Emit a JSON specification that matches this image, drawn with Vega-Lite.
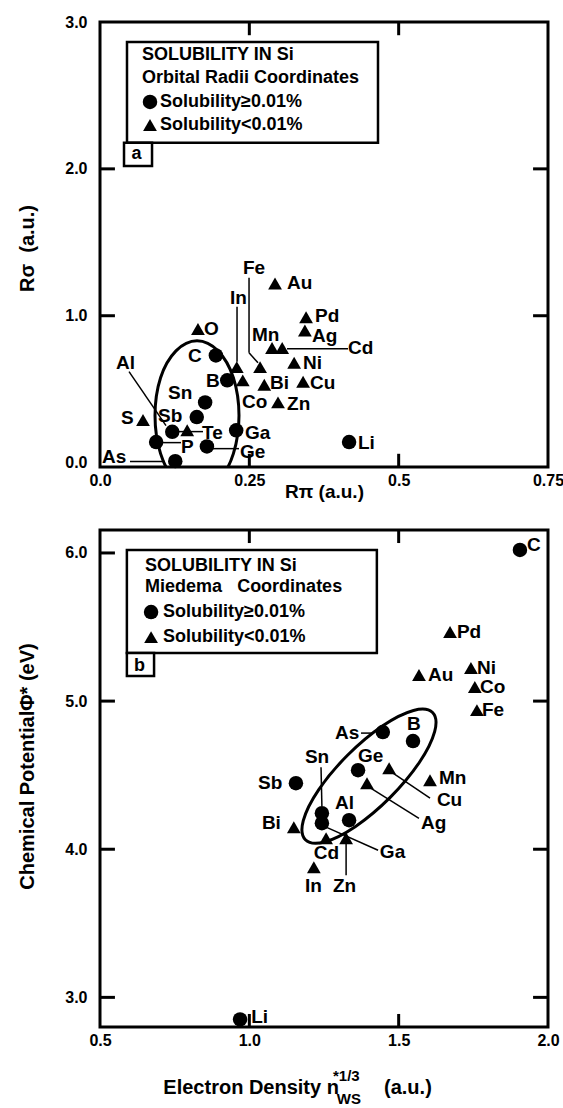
{
"$schema": "https://vega.github.io/schema/vega-lite/v6.json",
"background": "white",
"padding": {"left": 15, "top": 12, "right": 5, "bottom": 0},
"spacing": 24,
"config": {
  "font": "Liberation Sans",
  "view": {"stroke": "black", "strokeWidth": 3},
  "axis": {"grid": false, "domain": false, "ticks": false, "labelFont": "Liberation Sans", "labelFontWeight": "bold", "labelFontSize": 16, "labelColor": "black", "titleFont": "Liberation Sans", "titleFontWeight": "bold", "titleColor": "black", "titleFontSize": 20, "labelFlush": false, "labelOverlap": false},
  "text": {"font": "Liberation Sans", "fontWeight": "bold", "color": "black"}
},
"datasets": {
  "topPts": [
    {"name": "O", "s": "t", "x": 0.164, "y": 0.91, "lx": 0.1741, "ly": 0.912},
    {"name": "C", "s": "c", "x": 0.194, "y": 0.73, "lx": 0.1473, "ly": 0.728},
    {"name": "B", "s": "c", "x": 0.213, "y": 0.56, "lx": 0.1775, "ly": 0.558},
    {"name": "In", "s": "t", "x": 0.229, "y": 0.65, "lx": 0.2176, "ly": 1.122},
    {"name": "Co", "s": "t", "x": 0.239, "y": 0.56, "lx": 0.2377, "ly": 0.415},
    {"name": "Fe", "s": "t", "x": 0.268, "y": 0.65, "lx": 0.2394, "ly": 1.327},
    {"name": "Au", "s": "t", "x": 0.293, "y": 1.22, "lx": 0.3131, "ly": 1.224},
    {"name": "Mn", "s": "t", "x": 0.288, "y": 0.78, "lx": 0.2545, "ly": 0.871},
    {"name": "Cd", "s": "t", "x": 0.305, "y": 0.78, "lx": 0.4152, "ly": 0.782},
    {"name": "Pd", "s": "t", "x": 0.345, "y": 0.99, "lx": 0.36, "ly": 1.0},
    {"name": "Ag", "s": "t", "x": 0.343, "y": 0.9, "lx": 0.3549, "ly": 0.864},
    {"name": "Ni", "s": "t", "x": 0.325, "y": 0.68, "lx": 0.3399, "ly": 0.68},
    {"name": "Bi", "s": "t", "x": 0.275, "y": 0.53, "lx": 0.2846, "ly": 0.544},
    {"name": "Cu", "s": "t", "x": 0.34, "y": 0.55, "lx": 0.3516, "ly": 0.544},
    {"name": "Zn", "s": "t", "x": 0.298, "y": 0.41, "lx": 0.3131, "ly": 0.401},
    {"name": "Sn", "s": "c", "x": 0.176, "y": 0.41, "lx": 0.1138, "ly": 0.476},
    {"name": "Sb", "s": "c", "x": 0.162, "y": 0.31, "lx": 0.0971, "ly": 0.32},
    {"name": "S", "s": "t", "x": 0.072, "y": 0.29, "lx": 0.0352, "ly": 0.306},
    {"name": "Te", "s": "t", "x": 0.146, "y": 0.22, "lx": 0.1708, "ly": 0.204},
    {"name": "Al", "s": "c", "x": 0.121, "y": 0.21, "lx": 0.0268, "ly": 0.68},
    {"name": "Ga", "s": "c", "x": 0.228, "y": 0.22, "lx": 0.2428, "ly": 0.204},
    {"name": "P", "s": "c", "x": 0.094, "y": 0.14, "lx": 0.1356, "ly": 0.109},
    {"name": "Ge", "s": "c", "x": 0.179, "y": 0.11, "lx": 0.2344, "ly": 0.075},
    {"name": "As", "s": "c", "x": 0.126, "y": 0.01, "lx": 0.0033, "ly": 0.041},
    {"name": "Li", "s": "c", "x": 0.417, "y": 0.14, "lx": 0.4319, "ly": 0.136}
  ],
  "topEllipse": [
    {"i": 0, "x": 0.1624, "y": 0.83},
    {"i": 1, "x": 0.1976, "y": 0.761},
    {"i": 2, "x": 0.2233, "y": 0.578},
    {"i": 3, "x": 0.2327, "y": 0.32},
    {"i": 4, "x": 0.2233, "y": 0.061},
    {"i": 5, "x": 0.1976, "y": -0.128},
    {"i": 6, "x": 0.1624, "y": -0.197},
    {"i": 7, "x": 0.1272, "y": -0.128},
    {"i": 8, "x": 0.1014, "y": 0.061},
    {"i": 9, "x": 0.0921, "y": 0.32},
    {"i": 10, "x": 0.1014, "y": 0.578},
    {"i": 11, "x": 0.1272, "y": 0.761}
  ],
  "topLeaders": [
    {"x1": 0.2495, "y1": 1.259, "x2": 0.2495, "y2": 0.748},
    {"x1": 0.2495, "y1": 0.748, "x2": 0.2645, "y2": 0.68},
    {"x1": 0.2294, "y1": 1.061, "x2": 0.2294, "y2": 0.687},
    {"x1": 0.3131, "y1": 0.776, "x2": 0.4152, "y2": 0.776},
    {"x1": 0.0486, "y1": 0.619, "x2": 0.1105, "y2": 0.252},
    {"x1": 0.1306, "y1": 0.211, "x2": 0.1724, "y2": 0.211},
    {"x1": 0.1055, "y1": 0.136, "x2": 0.1356, "y2": 0.136},
    {"x1": 0.1892, "y1": 0.095, "x2": 0.2327, "y2": 0.095},
    {"x1": 0.0502, "y1": 0.007, "x2": 0.1088, "y2": 0.007}
  ],
  "topTicks": [
    {"x1": 0.25, "y1": -0.03, "x2": 0.25, "y2": 0.06},
    {"x1": 0.5, "y1": -0.03, "x2": 0.5, "y2": 0.06},
    {"x1": 0.25, "y1": 3.0, "x2": 0.25, "y2": 2.91},
    {"x1": 0.5, "y1": 3.0, "x2": 0.5, "y2": 2.91},
    {"x1": 0.0, "y1": 1.0, "x2": 0.025, "y2": 1.0},
    {"x1": 0.0, "y1": 2.0, "x2": 0.025, "y2": 2.0},
    {"x1": 0.75, "y1": 1.0, "x2": 0.725, "y2": 1.0},
    {"x1": 0.75, "y1": 2.0, "x2": 0.725, "y2": 2.0}
  ],
  "topBoxes": [
    {"x1": 0.0452, "x2": 0.4654, "y1": 2.864, "y2": 2.177},
    {"x1": 0.0402, "x2": 0.0871, "y1": 2.177, "y2": 2.02}
  ],
  "topLegText": [
    {"x": 0.0703, "y": 2.776, "t": "SOLUBILITY IN Si"},
    {"x": 0.0703, "y": 2.619, "t": "Orbital Radii Coordinates"},
    {"x": 0.1005, "y": 2.456, "t": "Solubility≥0.01%"},
    {"x": 0.1005, "y": 2.299, "t": "Solubility<0.01%"},
    {"x": 0.0527, "y": 2.102, "t": "a"}
  ],
  "topLegSym": [
    {"x": 0.0837, "y": 2.456, "s": "c"},
    {"x": 0.0837, "y": 2.299, "s": "t"}
  ],
  "botPts": [
    {"name": "C", "s": "c", "x": 1.906, "y": 6.02, "lx": 1.9295, "ly": 6.054},
    {"name": "Pd", "s": "t", "x": 1.672, "y": 5.466, "lx": 1.695, "ly": 5.466},
    {"name": "Au", "s": "t", "x": 1.568, "y": 5.176, "lx": 1.598, "ly": 5.176},
    {"name": "Ni", "s": "t", "x": 1.742, "y": 5.223, "lx": 1.762, "ly": 5.223},
    {"name": "Co", "s": "t", "x": 1.755, "y": 5.095, "lx": 1.772, "ly": 5.095},
    {"name": "Fe", "s": "t", "x": 1.762, "y": 4.939, "lx": 1.779, "ly": 4.939},
    {"name": "As", "s": "c", "x": 1.447, "y": 4.791, "lx": 1.287, "ly": 4.784},
    {"name": "B", "s": "c", "x": 1.548, "y": 4.73, "lx": 1.528, "ly": 4.845},
    {"name": "Ge", "s": "c", "x": 1.364, "y": 4.534, "lx": 1.364, "ly": 4.628},
    {"name": "Cu", "s": "t", "x": 1.468, "y": 4.547, "lx": 1.628, "ly": 4.331},
    {"name": "Mn", "s": "t", "x": 1.605, "y": 4.466, "lx": 1.635, "ly": 4.48},
    {"name": "Sb", "s": "c", "x": 1.156, "y": 4.446, "lx": 1.029, "ly": 4.446},
    {"name": "Ag", "s": "t", "x": 1.394, "y": 4.446, "lx": 1.575, "ly": 4.176},
    {"name": "Sn", "s": "c", "x": 1.243, "y": 4.243, "lx": 1.186, "ly": 4.622},
    {"name": "Ga", "s": "c", "x": 1.243, "y": 4.176, "lx": 1.437, "ly": 3.98},
    {"name": "Al", "s": "c", "x": 1.334, "y": 4.196, "lx": 1.287, "ly": 4.311},
    {"name": "Bi", "s": "t", "x": 1.149, "y": 4.149, "lx": 1.042, "ly": 4.176},
    {"name": "Cd", "s": "t", "x": 1.257, "y": 4.074, "lx": 1.216, "ly": 3.973},
    {"name": "Zn", "s": "t", "x": 1.324, "y": 4.074, "lx": 1.28, "ly": 3.75},
    {"name": "In", "s": "t", "x": 1.216, "y": 3.878, "lx": 1.186, "ly": 3.75},
    {"name": "Li", "s": "c", "x": 0.969, "y": 2.851, "lx": 1.006, "ly": 2.865}
  ],
  "botEllipse": [
    {"i": 0, "x": 1.6135, "y": 4.923},
    {"i": 1, "x": 1.6205, "y": 4.794},
    {"i": 2, "x": 1.5686, "y": 4.584},
    {"i": 3, "x": 1.4716, "y": 4.35},
    {"i": 4, "x": 1.3557, "y": 4.154},
    {"i": 5, "x": 1.2516, "y": 4.049},
    {"i": 6, "x": 1.1877, "y": 4.064},
    {"i": 7, "x": 1.1806, "y": 4.193},
    {"i": 8, "x": 1.2325, "y": 4.403},
    {"i": 9, "x": 1.3296, "y": 4.636},
    {"i": 10, "x": 1.4454, "y": 4.832},
    {"i": 11, "x": 1.5496, "y": 4.937}
  ],
  "botLeaders": [
    {"x1": 1.374, "y1": 4.784, "x2": 1.414, "y2": 4.784},
    {"x1": 1.24, "y1": 4.554, "x2": 1.243, "y2": 4.291},
    {"x1": 1.481, "y1": 4.514, "x2": 1.605, "y2": 4.345},
    {"x1": 1.401, "y1": 4.419, "x2": 1.568, "y2": 4.209},
    {"x1": 1.257, "y1": 4.149, "x2": 1.431, "y2": 3.993},
    {"x1": 1.324, "y1": 4.047, "x2": 1.324, "y2": 3.824}
  ],
  "botTicks": [
    {"x1": 1.0, "y1": 2.8, "x2": 1.0, "y2": 2.888},
    {"x1": 1.5, "y1": 2.8, "x2": 1.5, "y2": 2.888},
    {"x1": 1.0, "y1": 6.155, "x2": 1.0, "y2": 6.067},
    {"x1": 1.5, "y1": 6.155, "x2": 1.5, "y2": 6.067},
    {"x1": 0.5, "y1": 3.0, "x2": 0.55, "y2": 3.0},
    {"x1": 0.5, "y1": 4.0, "x2": 0.55, "y2": 4.0},
    {"x1": 0.5, "y1": 5.0, "x2": 0.55, "y2": 5.0},
    {"x1": 0.5, "y1": 6.0, "x2": 0.55, "y2": 6.0},
    {"x1": 2.0, "y1": 3.0, "x2": 1.95, "y2": 3.0},
    {"x1": 2.0, "y1": 4.0, "x2": 1.95, "y2": 4.0},
    {"x1": 2.0, "y1": 5.0, "x2": 1.95, "y2": 5.0}
  ],
  "botBoxes": [
    {"x1": 0.59, "x2": 1.427, "y1": 6.02, "y2": 5.324},
    {"x1": 0.59, "x2": 0.681, "y1": 5.324, "y2": 5.169}
  ],
  "botLegText": [
    {"x": 0.651, "y": 5.912, "t": "SOLUBILITY IN Si"},
    {"x": 0.651, "y": 5.77, "t": "Miedema\u00a0\u00a0\u00a0Coordinates"},
    {"x": 0.711, "y": 5.601, "t": "Solubility≥0.01%"},
    {"x": 0.711, "y": 5.432, "t": "Solubility<0.01%"},
    {"x": 0.614, "y": 5.236, "t": "b"}
  ],
  "botLegSym": [
    {"x": 0.671, "y": 5.601, "s": "c"},
    {"x": 0.671, "y": 5.432, "s": "t"}
  ]
},
"vconcat": [
  {
    "width": 448, "height": 445,
    "layer": [
      {
        "data": {"name": "topEllipse"},
        "mark": {"type": "line", "interpolate": "cardinal-closed", "clip": true, "color": "black", "strokeWidth": 3},
        "encoding": {
          "x": {"field": "x", "type": "quantitative", "scale": {"domain": [0, 0.75], "nice": false, "zero": false},
                "axis": {"orient": "bottom", "values": [0, 0.25, 0.5, 0.75], "labelExpr": "datum.value == 0 ? '0.0' : datum.value == 0.5 ? '0.5' : format(datum.value, '.2f')", "labelPadding": 5, "title": "Rπ (a.u.)", "titleFontSize": 19, "titleY": 24, "titleBaseline": "middle"}},
          "y": {"field": "y", "type": "quantitative", "scale": {"domain": [-0.03, 3.0], "nice": false, "zero": false},
                "axis": {"orient": "left", "values": [0, 1, 2, 3], "format": ".1f", "labelPadding": 13, "title": "Rσ\u00a0\u00a0(a.u.)", "titleX": -63, "titleY": 226}},
          "order": {"field": "i", "type": "quantitative"}
        }
      },
      {
        "data": {"name": "topTicks"},
        "mark": {"type": "rule", "color": "black", "strokeWidth": 3},
        "encoding": {
          "x": {"field": "x1", "type": "quantitative", "scale": {"domain": [0, 0.75], "nice": false, "zero": false}},
          "y": {"field": "y1", "type": "quantitative", "scale": {"domain": [-0.03, 3.0], "nice": false, "zero": false}},
          "x2": {"field": "x2"},
          "y2": {"field": "y2"}
        }
      },
      {
        "data": {"name": "topLeaders"},
        "mark": {"type": "rule", "color": "black", "strokeWidth": 1.5},
        "encoding": {
          "x": {"field": "x1", "type": "quantitative", "scale": {"domain": [0, 0.75], "nice": false, "zero": false}},
          "y": {"field": "y1", "type": "quantitative", "scale": {"domain": [-0.03, 3.0], "nice": false, "zero": false}},
          "x2": {"field": "x2"},
          "y2": {"field": "y2"}
        }
      },
      {
        "data": {"name": "topPts"},
        "mark": {"type": "point", "filled": true, "color": "black", "opacity": 1},
        "encoding": {
          "x": {"field": "x", "type": "quantitative", "scale": {"domain": [0, 0.75], "nice": false, "zero": false}},
          "y": {"field": "y", "type": "quantitative", "scale": {"domain": [-0.03, 3.0], "nice": false, "zero": false}},
          "shape": {"field": "s", "type": "nominal", "scale": {"domain": ["c", "t"], "range": ["circle", "triangle-up"]}, "legend": null},
          "size": {"field": "s", "type": "ordinal", "scale": {"domain": ["c", "t"], "range": [210, 190]}, "legend": null}
        }
      },
      {
        "data": {"name": "topPts"},
        "mark": {"type": "text", "align": "left", "baseline": "middle", "fontSize": 19, "fontWeight": "bold"},
        "encoding": {
          "x": {"field": "lx", "type": "quantitative", "scale": {"domain": [0, 0.75], "nice": false, "zero": false}},
          "y": {"field": "ly", "type": "quantitative", "scale": {"domain": [-0.03, 3.0], "nice": false, "zero": false}},
          "text": {"field": "name"}
        }
      },
      {
        "data": {"name": "topBoxes"},
        "mark": {"type": "rect", "fill": "white", "stroke": "black", "strokeWidth": 2.5},
        "encoding": {
          "x": {"field": "x1", "type": "quantitative", "scale": {"domain": [0, 0.75], "nice": false, "zero": false}},
          "x2": {"field": "x2"},
          "y": {"field": "y1", "type": "quantitative", "scale": {"domain": [-0.03, 3.0], "nice": false, "zero": false}},
          "y2": {"field": "y2"}
        }
      },
      {
        "data": {"name": "topLegText"},
        "mark": {"type": "text", "align": "left", "baseline": "middle", "fontSize": 18, "fontWeight": "bold"},
        "encoding": {
          "x": {"field": "x", "type": "quantitative", "scale": {"domain": [0, 0.75], "nice": false, "zero": false}},
          "y": {"field": "y", "type": "quantitative", "scale": {"domain": [-0.03, 3.0], "nice": false, "zero": false}},
          "text": {"field": "t"}
        }
      },
      {
        "data": {"name": "topLegSym"},
        "mark": {"type": "point", "filled": true, "color": "black", "opacity": 1},
        "encoding": {
          "x": {"field": "x", "type": "quantitative", "scale": {"domain": [0, 0.75], "nice": false, "zero": false}},
          "y": {"field": "y", "type": "quantitative", "scale": {"domain": [-0.03, 3.0], "nice": false, "zero": false}},
          "shape": {"field": "s", "type": "nominal", "scale": {"domain": ["c", "t"], "range": ["circle", "triangle-up"]}, "legend": null},
          "size": {"field": "s", "type": "ordinal", "scale": {"domain": ["c", "t"], "range": [210, 190]}, "legend": null}
        }
      }
    ]
  },
  {
    "width": 448, "height": 497,
    "layer": [
      {
        "data": {"name": "botEllipse"},
        "mark": {"type": "line", "interpolate": "cardinal-closed", "clip": true, "color": "black", "strokeWidth": 3},
        "encoding": {
          "x": {"field": "x", "type": "quantitative", "scale": {"domain": [0.5, 2.0], "nice": false, "zero": false},
                "axis": {"orient": "bottom", "values": [0.5, 1, 1.5, 2], "format": ".1f", "labelPadding": 5, "title": null}},
          "y": {"field": "y", "type": "quantitative", "scale": {"domain": [2.8, 6.155], "nice": false, "zero": false},
                "axis": {"orient": "left", "values": [3, 4, 5, 6], "format": ".1f", "labelPadding": 13, "title": "Chemical PotentialΦ* (eV)", "titleX": -63, "titleY": 236}},
          "order": {"field": "i", "type": "quantitative"}
        }
      },
      {
        "data": {"name": "botTicks"},
        "mark": {"type": "rule", "color": "black", "strokeWidth": 3},
        "encoding": {
          "x": {"field": "x1", "type": "quantitative", "scale": {"domain": [0.5, 2.0], "nice": false, "zero": false}},
          "y": {"field": "y1", "type": "quantitative", "scale": {"domain": [2.8, 6.155], "nice": false, "zero": false}},
          "x2": {"field": "x2"},
          "y2": {"field": "y2"}
        }
      },
      {
        "data": {"name": "botLeaders"},
        "mark": {"type": "rule", "color": "black", "strokeWidth": 1.5},
        "encoding": {
          "x": {"field": "x1", "type": "quantitative", "scale": {"domain": [0.5, 2.0], "nice": false, "zero": false}},
          "y": {"field": "y1", "type": "quantitative", "scale": {"domain": [2.8, 6.155], "nice": false, "zero": false}},
          "x2": {"field": "x2"},
          "y2": {"field": "y2"}
        }
      },
      {
        "data": {"name": "botPts"},
        "mark": {"type": "point", "filled": true, "color": "black", "opacity": 1},
        "encoding": {
          "x": {"field": "x", "type": "quantitative", "scale": {"domain": [0.5, 2.0], "nice": false, "zero": false}},
          "y": {"field": "y", "type": "quantitative", "scale": {"domain": [2.8, 6.155], "nice": false, "zero": false}},
          "shape": {"field": "s", "type": "nominal", "scale": {"domain": ["c", "t"], "range": ["circle", "triangle-up"]}, "legend": null},
          "size": {"field": "s", "type": "ordinal", "scale": {"domain": ["c", "t"], "range": [230, 190]}, "legend": null}
        }
      },
      {
        "data": {"name": "botPts"},
        "mark": {"type": "text", "align": "left", "baseline": "middle", "fontSize": 19, "fontWeight": "bold"},
        "encoding": {
          "x": {"field": "lx", "type": "quantitative", "scale": {"domain": [0.5, 2.0], "nice": false, "zero": false}},
          "y": {"field": "ly", "type": "quantitative", "scale": {"domain": [2.8, 6.155], "nice": false, "zero": false}},
          "text": {"field": "name"}
        }
      },
      {
        "data": {"name": "botBoxes"},
        "mark": {"type": "rect", "fill": "white", "stroke": "black", "strokeWidth": 2.5},
        "encoding": {
          "x": {"field": "x1", "type": "quantitative", "scale": {"domain": [0.5, 2.0], "nice": false, "zero": false}},
          "x2": {"field": "x2"},
          "y": {"field": "y1", "type": "quantitative", "scale": {"domain": [2.8, 6.155], "nice": false, "zero": false}},
          "y2": {"field": "y2"}
        }
      },
      {
        "data": {"name": "botLegText"},
        "mark": {"type": "text", "align": "left", "baseline": "middle", "fontSize": 18, "fontWeight": "bold"},
        "encoding": {
          "x": {"field": "x", "type": "quantitative", "scale": {"domain": [0.5, 2.0], "nice": false, "zero": false}},
          "y": {"field": "y", "type": "quantitative", "scale": {"domain": [2.8, 6.155], "nice": false, "zero": false}},
          "text": {"field": "t"}
        }
      },
      {
        "data": {"name": "botLegSym"},
        "mark": {"type": "point", "filled": true, "color": "black", "opacity": 1},
        "encoding": {
          "x": {"field": "x", "type": "quantitative", "scale": {"domain": [0.5, 2.0], "nice": false, "zero": false}},
          "y": {"field": "y", "type": "quantitative", "scale": {"domain": [2.8, 6.155], "nice": false, "zero": false}},
          "shape": {"field": "s", "type": "nominal", "scale": {"domain": ["c", "t"], "range": ["circle", "triangle-up"]}, "legend": null},
          "size": {"field": "s", "type": "ordinal", "scale": {"domain": ["c", "t"], "range": [210, 190]}, "legend": null}
        }
      },
      {
        "data": {"values": [{"x": 1.3, "y": 2.385, "t": "Electron Density n"}]},
        "mark": {"type": "text", "align": "right", "baseline": "middle", "fontSize": 20, "fontWeight": "bold"},
        "encoding": {
          "x": {"field": "x", "type": "quantitative", "scale": {"domain": [0.5, 2.0], "nice": false, "zero": false}},
          "y": {"field": "y", "type": "quantitative", "scale": {"domain": [2.8, 6.155], "nice": false, "zero": false}},
          "text": {"field": "t"}
        }
      },
      {
        "data": {"values": [{"x": 1.451, "y": 2.385, "t": "(a.u.)"}]},
        "mark": {"type": "text", "align": "left", "baseline": "middle", "fontSize": 20, "fontWeight": "bold"},
        "encoding": {
          "x": {"field": "x", "type": "quantitative", "scale": {"domain": [0.5, 2.0], "nice": false, "zero": false}},
          "y": {"field": "y", "type": "quantitative", "scale": {"domain": [2.8, 6.155], "nice": false, "zero": false}},
          "text": {"field": "t"}
        }
      },
      {
        "data": {"values": [{"x": 1.28, "y": 2.47, "t": "*1/3"}, {"x": 1.293, "y": 2.315, "t": "WS"}]},
        "mark": {"type": "text", "align": "left", "baseline": "middle", "fontSize": 15, "fontWeight": "bold"},
        "encoding": {
          "x": {"field": "x", "type": "quantitative", "scale": {"domain": [0.5, 2.0], "nice": false, "zero": false}},
          "y": {"field": "y", "type": "quantitative", "scale": {"domain": [2.8, 6.155], "nice": false, "zero": false}},
          "text": {"field": "t"}
        }
      }
    ]
  }
]
}
